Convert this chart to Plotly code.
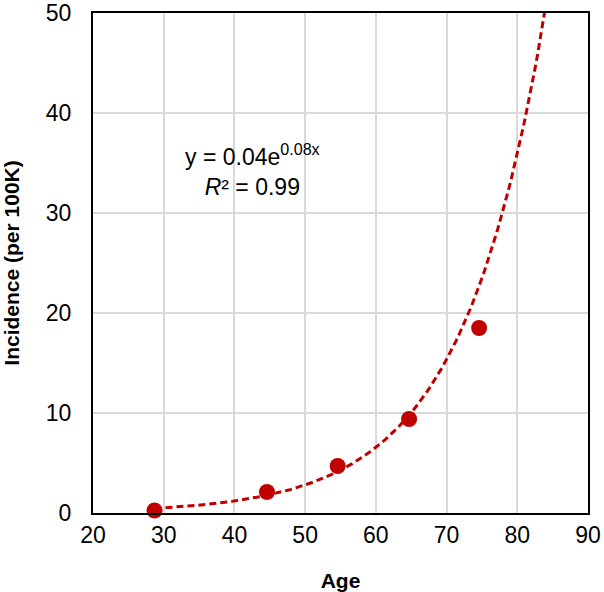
import numpy as np
import plotly.graph_objects as go

# observed incidence by age group
age = [28.7, 44.6, 54.6, 64.7, 74.6]
incidence = [0.25, 2.1, 4.7, 9.4, 18.5]

# exponential trendline y = a * exp(b * x)
TREND_A = 0.04
TREND_B = 0.085

x_ticks = [20, 30, 40, 50, 60, 70, 80, 90]
y_ticks = [0, 10, 20, 30, 40, 50]

RED = '#c00000'
FONT = 'Liberation Sans, Arial, sans-serif'

trend_x = np.linspace(age[0], 86, 200)
trend_y = TREND_A * np.exp(TREND_B * trend_x)

fig = go.Figure()
fig.add_trace(go.Scatter(
    x=trend_x, y=trend_y,
    mode='lines',
    line=dict(color=RED, width=3, dash='7px,4px'),
    hoverinfo='skip',
))
fig.add_trace(go.Scatter(
    x=age, y=incidence,
    mode='markers',
    marker=dict(color=RED, size=16),
    cliponaxis=False,
))

fig.add_annotation(
    x=42.5, y=34.3, xref='x', yref='y',
    text='y = 0.04e<sup>0.08x</sup><br><i>R</i>² = 0.99',
    showarrow=False, align='center',
    font=dict(family=FONT, size=23, color='#000000'),
)

axis_common = dict(
    showgrid=True, gridcolor='#d9d9d9', gridwidth=2,
    showline=True, linecolor='#000000', linewidth=2, mirror=True,
    ticks='', zeroline=False, automargin=False,
    ticklabeloverflow='allow',
    tickfont=dict(family=FONT, size=23, color='#000000'),
)

fig.update_xaxes(
    range=[20, 90], tickvals=x_ticks,
    title=dict(text='<b>Age</b>', font=dict(family=FONT, size=21, color='#000000'), standoff=28),
    ticklabelstandoff=0,
    **axis_common,
)
fig.update_yaxes(
    range=[0, 50], tickvals=y_ticks,
    title=dict(text='<b>Incidence (per 100K)</b>', font=dict(family=FONT, size=21, color='#000000'), standoff=27),
    ticklabelstandoff=15,
    **axis_common,
)

fig.update_layout(
    width=604, height=592,
    margin=dict(l=93, r=16, t=13, b=79),
    plot_bgcolor='white', paper_bgcolor='white',
    showlegend=False,
)

# drop the default body margin so the figure fills the window
fig.write_html(
    'out.html',
    config={'displayModeBar': False},
    post_script="document.body.style.margin='0';",
)
